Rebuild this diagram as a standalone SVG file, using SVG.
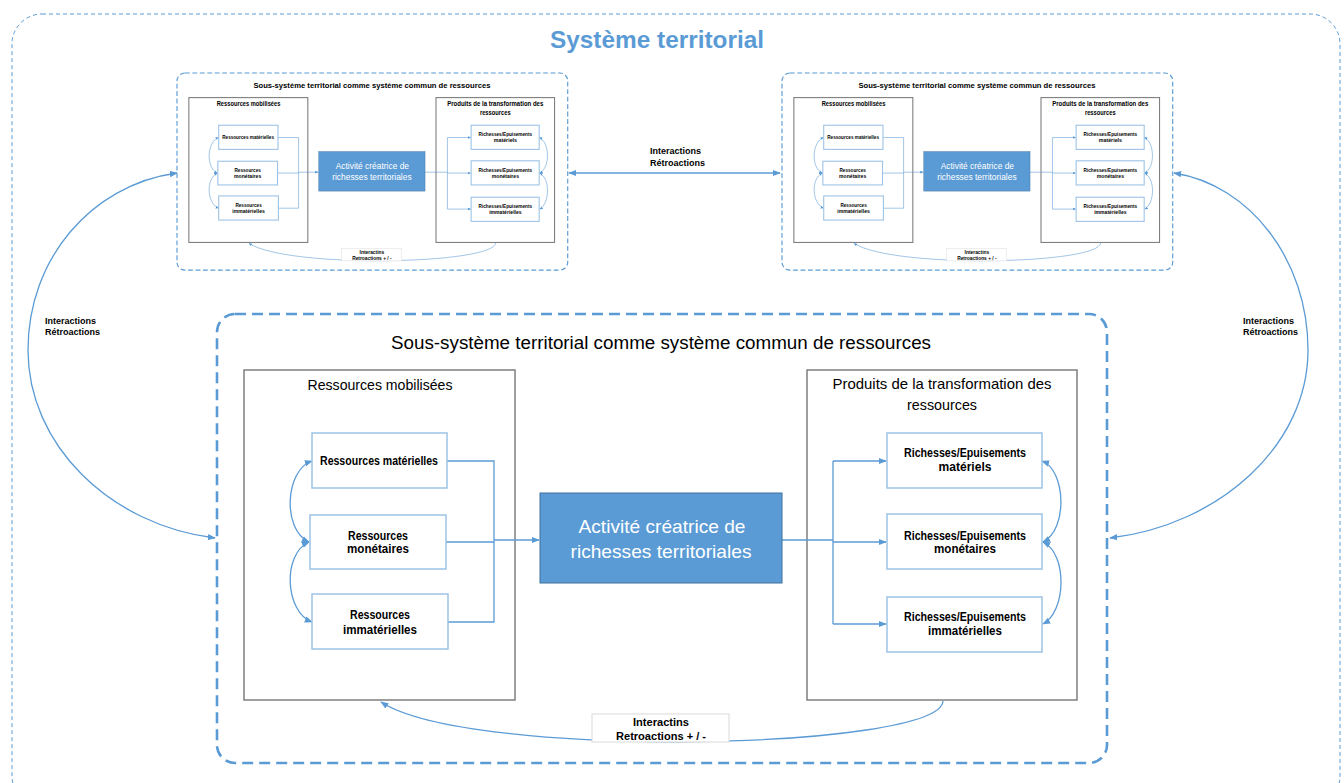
<svg xmlns="http://www.w3.org/2000/svg" width="1344" height="783" viewBox="0 0 1344 783">
<defs>
<style>
text{font-family:'Liberation Sans',Arial,sans-serif;fill:#000}
.t{text-anchor:middle}
.b{font-weight:bold}
.nd{fill:#fff;stroke:#9dc3e6;stroke-width:1.5}
.ct{fill:#fff;stroke:#7f7f7f;stroke-width:1.5}
.bl{fill:#5b9bd5;stroke:#41719c;stroke-width:1}
.lb{fill:#fff;stroke:#d9d9d9;stroke-width:1}
.cn{fill:none;stroke:#5b9bd5;stroke-width:1.3}
.sub{fill:none;stroke:#5b9bd5;stroke-width:2.6;stroke-dasharray:11 6}
.wt{fill:#fff;font-size:19px}
.ns{font-size:12.5px;font-weight:bold}
.sm{font-size:9px;font-weight:bold}
</style>
<marker id="arr" viewBox="0 0 10 10" refX="9" refY="5" markerWidth="8" markerHeight="8" orient="auto-start-reverse" markerUnits="userSpaceOnUse">
<path d="M0,1 L10,5 L0,9 z" fill="#5b9bd5"/>
</marker>
</defs>
<rect width="1344" height="783" fill="#fff"/>

<g id="systeme-territorial">
<rect x="12" y="14" width="1328" height="792" rx="30" fill="none" stroke="#5b9bd5" stroke-width="1" stroke-dasharray="4 3"/>
<text class="t b" x="657" y="48" font-size="24" fill="#5b9bd5" style="fill:#5b9bd5" textLength="214" lengthAdjust="spacingAndGlyphs">Système territorial</text>
</g>

<g id="connectors">
<path class="cn" d="M177 173 C90 185 28 260 28 350 C28 445 110 525 215 538" marker-start="url(#arr)" marker-end="url(#arr)"/>
<path class="cn" d="M1174 173 C1250 185 1308 260 1308 350 C1308 445 1220 525 1110 538" marker-start="url(#arr)" marker-end="url(#arr)"/>
<path class="cn" d="M569 173 H780" marker-start="url(#arr)" marker-end="url(#arr)"/>
<text class="sm" x="45" y="324">Interactions</text>
<text class="sm" x="45" y="335">Rétroactions</text>
<text class="sm" x="1243" y="324">Interactions</text>
<text class="sm" x="1243" y="335">Rétroactions</text>
<text class="sm" x="650" y="154">Interactions</text>
<text class="sm" x="650" y="166">Rétroactions</text>
</g>

<!-- Main subsystem -->
<g id="sous-systeme">
<rect class="sub" x="217" y="314" width="890" height="449" rx="18"/>
<text class="t" x="661" y="349" font-size="17.5" textLength="540" lengthAdjust="spacingAndGlyphs">Sous-système territorial comme système commun de ressources</text>
<g id="ressources-mobilisees">
<rect class="ct" x="244" y="370" width="271" height="330"/>
<text class="t" x="380" y="390" font-size="15" textLength="145" lengthAdjust="spacingAndGlyphs">Ressources mobilisées</text>
</g>
<g id="produits">
<rect class="ct" x="807" y="370" width="270" height="330"/>
<text class="t" x="942" y="389" font-size="15" textLength="219" lengthAdjust="spacingAndGlyphs">Produits de la transformation des</text>
<text class="t" x="942" y="410" font-size="15" textLength="70" lengthAdjust="spacingAndGlyphs">ressources</text>
</g>
<g id="sous-connectors">
<path class="cn" d="M447 461 H494 V622 H448 M446 542 H494"/>
<path class="cn" d="M494 540 H539" marker-end="url(#arr)"/>
<path class="cn" d="M312 461 C285 470 282 530 309 542" marker-start="url(#arr)" marker-end="url(#arr)"/>
<path class="cn" d="M309 542 C282 554 285 612 312 622" marker-start="url(#arr)" marker-end="url(#arr)"/>
<path class="cn" d="M782 540 H833 M833 461 V624"/>
<path class="cn" d="M833 461 H886" marker-end="url(#arr)"/>
<path class="cn" d="M833 542 H886" marker-end="url(#arr)"/>
<path class="cn" d="M833 624 H886" marker-end="url(#arr)"/>
<path class="cn" d="M1042 461 C1066 470 1068 530 1043 542" marker-start="url(#arr)" marker-end="url(#arr)"/>
<path class="cn" d="M1043 542 C1068 554 1066 612 1043 624" marker-start="url(#arr)" marker-end="url(#arr)"/>
<path class="cn" d="M943 701 C940 750 470 760 381 702" marker-end="url(#arr)"/>
</g>
<g id="r-materielles">
<rect class="nd" x="312" y="433" width="135" height="55"/>
<text class="t ns" x="379" y="465" textLength="118" lengthAdjust="spacingAndGlyphs">Ressources matérielles</text>
</g>
<g id="r-monetaires">
<rect class="nd" x="310" y="515" width="136" height="54"/>
<text class="t ns" x="378" y="540" textLength="60" lengthAdjust="spacingAndGlyphs">Ressources</text>
<text class="t ns" x="378" y="553" textLength="62" lengthAdjust="spacingAndGlyphs">monétaires</text>
</g>
<g id="r-immaterielles">
<rect class="nd" x="312" y="594" width="136" height="55"/>
<text class="t ns" x="380" y="619" textLength="60" lengthAdjust="spacingAndGlyphs">Ressources</text>
<text class="t ns" x="380" y="634" textLength="74" lengthAdjust="spacingAndGlyphs">immatérielles</text>
</g>
<g id="activite">
<rect class="bl" x="540" y="493" width="242" height="90"/>
<text class="t wt" x="662" y="533" textLength="167" lengthAdjust="spacingAndGlyphs">Activité créatrice de</text>
<text class="t wt" x="661" y="558" textLength="181" lengthAdjust="spacingAndGlyphs">richesses territoriales</text>
</g>
<g id="p-materiels">
<rect class="nd" x="887" y="433" width="155" height="55"/>
<text class="t ns" x="965" y="457" textLength="122" lengthAdjust="spacingAndGlyphs">Richesses/Epuisements</text>
<text class="t ns" x="965" y="471" textLength="53" lengthAdjust="spacingAndGlyphs">matériels</text>
</g>
<g id="p-monetaires">
<rect class="nd" x="887" y="514" width="155" height="55"/>
<text class="t ns" x="965" y="540" textLength="122" lengthAdjust="spacingAndGlyphs">Richesses/Epuisements</text>
<text class="t ns" x="965" y="553" textLength="62" lengthAdjust="spacingAndGlyphs">monétaires</text>
</g>
<g id="p-immaterielles">
<rect class="nd" x="887" y="597" width="155" height="55"/>
<text class="t ns" x="965" y="621" textLength="122" lengthAdjust="spacingAndGlyphs">Richesses/Epuisements</text>
<text class="t ns" x="965" y="635" textLength="74" lengthAdjust="spacingAndGlyphs">immatérielles</text>
</g>
<g id="retroactions">
<rect class="lb" x="592" y="714" width="137" height="28"/>
<text class="t b" x="661" y="726" font-size="11.5" textLength="56" lengthAdjust="spacingAndGlyphs">Interactins</text>
<text class="t b" x="661" y="740" font-size="11.5" textLength="90" lengthAdjust="spacingAndGlyphs">Retroactions + / -</text>
</g>
</g>

<!-- Mini subsystem left -->
<g id="sous-systeme-gauche" transform="translate(177,73) scale(0.439) translate(-217,-314)">
<rect class="sub" x="217" y="314" width="890" height="449" rx="18"/>
<text class="t b" x="661" y="349" font-size="17.5" textLength="540" lengthAdjust="spacingAndGlyphs">Sous-système territorial comme système commun de ressources</text>
<g id="ressources-mobilisees-g">
<rect class="ct" x="244" y="370" width="271" height="330" stroke-width="2.5" style="stroke-width:2.5"/>
<text class="t b" x="380" y="390" font-size="15" textLength="145" lengthAdjust="spacingAndGlyphs">Ressources mobilisées</text>
</g>
<g id="produits-g">
<rect class="ct" x="807" y="370" width="270" height="330" style="stroke-width:2.5"/>
<text class="t b" x="942" y="389" font-size="15" textLength="219" lengthAdjust="spacingAndGlyphs">Produits de la transformation des</text>
<text class="t b" x="942" y="410" font-size="15" textLength="70" lengthAdjust="spacingAndGlyphs">ressources</text>
</g>
<g id="sous-connectors-g">
<path class="cn" d="M447 461 H494 V622 H448 M446 542 H494"/>
<path class="cn" d="M494 540 H539" marker-end="url(#arr)"/>
<path class="cn" d="M312 461 C285 470 282 530 309 542" marker-start="url(#arr)" marker-end="url(#arr)"/>
<path class="cn" d="M309 542 C282 554 285 612 312 622" marker-start="url(#arr)" marker-end="url(#arr)"/>
<path class="cn" d="M782 540 H833 M833 461 V624"/>
<path class="cn" d="M833 461 H886" marker-end="url(#arr)"/>
<path class="cn" d="M833 542 H886" marker-end="url(#arr)"/>
<path class="cn" d="M833 624 H886" marker-end="url(#arr)"/>
<path class="cn" d="M1042 461 C1066 470 1068 530 1043 542" marker-start="url(#arr)" marker-end="url(#arr)"/>
<path class="cn" d="M1043 542 C1068 554 1066 612 1043 624" marker-start="url(#arr)" marker-end="url(#arr)"/>
<path class="cn" d="M943 701 C940 750 470 760 381 702" marker-end="url(#arr)"/>
</g>
<g id="r-materielles-g">
<rect class="nd" x="312" y="433" width="135" height="55" style="stroke-width:2.5"/>
<text class="t ns" x="379" y="465" textLength="118" lengthAdjust="spacingAndGlyphs">Ressources matérielles</text>
</g>
<g id="r-monetaires-g">
<rect class="nd" x="310" y="515" width="136" height="54" style="stroke-width:2.5"/>
<text class="t ns" x="378" y="540" textLength="60" lengthAdjust="spacingAndGlyphs">Ressources</text>
<text class="t ns" x="378" y="553" textLength="62" lengthAdjust="spacingAndGlyphs">monétaires</text>
</g>
<g id="r-immaterielles-g">
<rect class="nd" x="312" y="594" width="136" height="55" style="stroke-width:2.5"/>
<text class="t ns" x="380" y="619" textLength="60" lengthAdjust="spacingAndGlyphs">Ressources</text>
<text class="t ns" x="380" y="634" textLength="74" lengthAdjust="spacingAndGlyphs">immatérielles</text>
</g>
<g id="activite-g">
<rect class="bl" x="540" y="493" width="242" height="90"/>
<text class="t wt" x="662" y="533" textLength="167" lengthAdjust="spacingAndGlyphs">Activité créatrice de</text>
<text class="t wt" x="661" y="558" textLength="181" lengthAdjust="spacingAndGlyphs">richesses territoriales</text>
</g>
<g id="p-materiels-g">
<rect class="nd" x="887" y="433" width="155" height="55" style="stroke-width:2.5"/>
<text class="t ns" x="965" y="457" textLength="122" lengthAdjust="spacingAndGlyphs">Richesses/Epuisements</text>
<text class="t ns" x="965" y="471" textLength="53" lengthAdjust="spacingAndGlyphs">matériels</text>
</g>
<g id="p-monetaires-g">
<rect class="nd" x="887" y="514" width="155" height="55" style="stroke-width:2.5"/>
<text class="t ns" x="965" y="540" textLength="122" lengthAdjust="spacingAndGlyphs">Richesses/Epuisements</text>
<text class="t ns" x="965" y="553" textLength="62" lengthAdjust="spacingAndGlyphs">monétaires</text>
</g>
<g id="p-immaterielles-g">
<rect class="nd" x="887" y="597" width="155" height="55" style="stroke-width:2.5"/>
<text class="t ns" x="965" y="621" textLength="122" lengthAdjust="spacingAndGlyphs">Richesses/Epuisements</text>
<text class="t ns" x="965" y="635" textLength="74" lengthAdjust="spacingAndGlyphs">immatérielles</text>
</g>
<g id="retroactions-g">
<rect class="lb" x="592" y="714" width="137" height="28"/>
<text class="t b" x="661" y="726" font-size="11.5" textLength="56" lengthAdjust="spacingAndGlyphs">Interactins</text>
<text class="t b" x="661" y="740" font-size="11.5" textLength="90" lengthAdjust="spacingAndGlyphs">Retroactions + / -</text>
</g>
</g>

<!-- Mini subsystem right -->
<g id="sous-systeme-droite" transform="translate(782,73) scale(0.439) translate(-217,-314)">
<rect class="sub" x="217" y="314" width="890" height="449" rx="18"/>
<text class="t b" x="661" y="349" font-size="17.5" textLength="540" lengthAdjust="spacingAndGlyphs">Sous-système territorial comme système commun de ressources</text>
<g id="ressources-mobilisees-d">
<rect class="ct" x="244" y="370" width="271" height="330" style="stroke-width:2.5"/>
<text class="t b" x="380" y="390" font-size="15" textLength="145" lengthAdjust="spacingAndGlyphs">Ressources mobilisées</text>
</g>
<g id="produits-d">
<rect class="ct" x="807" y="370" width="270" height="330" style="stroke-width:2.5"/>
<text class="t b" x="942" y="389" font-size="15" textLength="219" lengthAdjust="spacingAndGlyphs">Produits de la transformation des</text>
<text class="t b" x="942" y="410" font-size="15" textLength="70" lengthAdjust="spacingAndGlyphs">ressources</text>
</g>
<g id="sous-connectors-d">
<path class="cn" d="M447 461 H494 V622 H448 M446 542 H494"/>
<path class="cn" d="M494 540 H539" marker-end="url(#arr)"/>
<path class="cn" d="M312 461 C285 470 282 530 309 542" marker-start="url(#arr)" marker-end="url(#arr)"/>
<path class="cn" d="M309 542 C282 554 285 612 312 622" marker-start="url(#arr)" marker-end="url(#arr)"/>
<path class="cn" d="M782 540 H833 M833 461 V624"/>
<path class="cn" d="M833 461 H886" marker-end="url(#arr)"/>
<path class="cn" d="M833 542 H886" marker-end="url(#arr)"/>
<path class="cn" d="M833 624 H886" marker-end="url(#arr)"/>
<path class="cn" d="M1042 461 C1066 470 1068 530 1043 542" marker-start="url(#arr)" marker-end="url(#arr)"/>
<path class="cn" d="M1043 542 C1068 554 1066 612 1043 624" marker-start="url(#arr)" marker-end="url(#arr)"/>
<path class="cn" d="M943 701 C940 750 470 760 381 702" marker-end="url(#arr)"/>
</g>
<g id="r-materielles-d">
<rect class="nd" x="312" y="433" width="135" height="55" style="stroke-width:2.5"/>
<text class="t ns" x="379" y="465" textLength="118" lengthAdjust="spacingAndGlyphs">Ressources matérielles</text>
</g>
<g id="r-monetaires-d">
<rect class="nd" x="310" y="515" width="136" height="54" style="stroke-width:2.5"/>
<text class="t ns" x="378" y="540" textLength="60" lengthAdjust="spacingAndGlyphs">Ressources</text>
<text class="t ns" x="378" y="553" textLength="62" lengthAdjust="spacingAndGlyphs">monétaires</text>
</g>
<g id="r-immaterielles-d">
<rect class="nd" x="312" y="594" width="136" height="55" style="stroke-width:2.5"/>
<text class="t ns" x="380" y="619" textLength="60" lengthAdjust="spacingAndGlyphs">Ressources</text>
<text class="t ns" x="380" y="634" textLength="74" lengthAdjust="spacingAndGlyphs">immatérielles</text>
</g>
<g id="activite-d">
<rect class="bl" x="540" y="493" width="242" height="90"/>
<text class="t wt" x="662" y="533" textLength="167" lengthAdjust="spacingAndGlyphs">Activité créatrice de</text>
<text class="t wt" x="661" y="558" textLength="181" lengthAdjust="spacingAndGlyphs">richesses territoriales</text>
</g>
<g id="p-materiels-d">
<rect class="nd" x="887" y="433" width="155" height="55" style="stroke-width:2.5"/>
<text class="t ns" x="965" y="457" textLength="122" lengthAdjust="spacingAndGlyphs">Richesses/Epuisements</text>
<text class="t ns" x="965" y="471" textLength="53" lengthAdjust="spacingAndGlyphs">matériels</text>
</g>
<g id="p-monetaires-d">
<rect class="nd" x="887" y="514" width="155" height="55" style="stroke-width:2.5"/>
<text class="t ns" x="965" y="540" textLength="122" lengthAdjust="spacingAndGlyphs">Richesses/Epuisements</text>
<text class="t ns" x="965" y="553" textLength="62" lengthAdjust="spacingAndGlyphs">monétaires</text>
</g>
<g id="p-immaterielles-d">
<rect class="nd" x="887" y="597" width="155" height="55" style="stroke-width:2.5"/>
<text class="t ns" x="965" y="621" textLength="122" lengthAdjust="spacingAndGlyphs">Richesses/Epuisements</text>
<text class="t ns" x="965" y="635" textLength="74" lengthAdjust="spacingAndGlyphs">immatérielles</text>
</g>
<g id="retroactions-d">
<rect class="lb" x="592" y="714" width="137" height="28"/>
<text class="t b" x="661" y="726" font-size="11.5" textLength="56" lengthAdjust="spacingAndGlyphs">Interactins</text>
<text class="t b" x="661" y="740" font-size="11.5" textLength="90" lengthAdjust="spacingAndGlyphs">Retroactions + / -</text>
</g>
</g>
</svg>
